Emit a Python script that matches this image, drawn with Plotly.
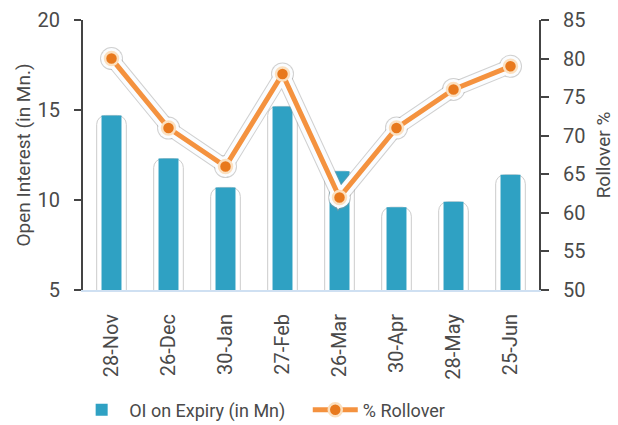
import plotly.graph_objects as go

categories = ["28-Nov", "26-Dec", "30-Jan", "27-Feb", "26-Mar", "30-Apr", "28-May", "25-Jun"]
oi_expiry = [14.7, 12.3, 10.7, 15.2, 11.6, 9.6, 9.9, 11.4]
rollover = [80, 71, 66, 78, 62, 71, 76, 79]

FONT = "Roboto, 'Liberation Sans', sans-serif"
TXT = "#4a4a4a"

fig = go.Figure()

# halo behind bars
fig.add_trace(go.Bar(x=categories, y=oi_expiry, width=0.52, base=0,
                     marker=dict(color="white", line=dict(color="#cccccc", width=1), cornerradius=9),
                     showlegend=False, hoverinfo="skip", yaxis="y"))
fig.add_trace(go.Bar(x=categories, y=oi_expiry, width=0.35, base=0, name="OI on Expiry (in Mn)",
                     marker=dict(color="#2fa1c3", line=dict(width=0)), yaxis="y", legend="legend"))

# halo around line
fig.add_trace(go.Scatter(x=categories, y=rollover, mode="lines+markers", yaxis="y2",
                         line=dict(color="rgba(150,150,150,0.45)", width=15),
                         marker=dict(size=23, color="rgba(150,150,150,0.45)"),
                         showlegend=False, hoverinfo="skip"))
fig.add_trace(go.Scatter(x=categories, y=rollover, mode="lines+markers", yaxis="y2",
                         line=dict(color="#fbfdff", width=13),
                         marker=dict(size=21, color="#fbfdff"),
                         showlegend=False, hoverinfo="skip"))
fig.add_trace(go.Scatter(x=categories, y=rollover, mode="lines+markers", yaxis="y2", name="% Rollover",
                         line=dict(color="#f4923f", width=5), legend="legend2",
                         marker=dict(size=13, color="#e8791d", line=dict(color="#fbe0c0", width=2.5))))

legend_common = dict(orientation="h", xref="container", yref="container", xanchor="left",
                     y=0.035, yanchor="middle", font=dict(size=18, color=TXT), itemwidth=45,
                     bgcolor="rgba(0,0,0,0)")

fig.update_layout(
    width=618, height=425,
    margin=dict(l=83, r=79, t=20, b=135, autoexpand=False),
    paper_bgcolor="white", plot_bgcolor="white",
    barmode="overlay",
    font=dict(family=FONT, color=TXT, size=18),
    xaxis=dict(showgrid=False, zeroline=False, showline=True, linecolor="#cfe0f2", linewidth=2,
               ticks="", tickangle=-90, tickfont=dict(size=20, color=TXT), automargin=False,
               ticklabelstandoff=14, range=[-0.5, 7.5]),
    yaxis=dict(range=[5, 20], dtick=5, showgrid=False, zeroline=False, showline=True, automargin=False,
               linecolor="#444", linewidth=2, ticks="outside", ticklen=7, tickwidth=2, tickcolor="#444",
               tickfont=dict(size=20, color=TXT), ticklabelstandoff=10,
               title=dict(text="Open Interest (in Mn.)", font=dict(size=19, color=TXT), standoff=2)),
    yaxis2=dict(range=[50, 85], dtick=5, overlaying="y", side="right", showgrid=False, zeroline=False,
                showline=True, linecolor="#444", linewidth=2, ticks="outside", ticklen=8, tickwidth=2,
                automargin=False,
                tickcolor="#444", tickfont=dict(size=20, color=TXT), ticklabelstandoff=10,
                title=dict(text="Rollover %", font=dict(size=19, color=TXT), standoff=12)),
    yaxis3=dict(range=[5, 20], dtick=5, overlaying="y", side="left", anchor="x", showgrid=False,
                zeroline=False, showline=False, ticks="inside", ticklen=7, tickwidth=2, tickcolor="#444",
                showticklabels=False, automargin=False),
    yaxis4=dict(range=[50, 85], dtick=5, overlaying="y", side="right", anchor="x", showgrid=False,
                zeroline=False, showline=False, ticks="inside", ticklen=8, tickwidth=2, tickcolor="#444",
                showticklabels=False, automargin=False),
    legend=dict(x=0.12, **legend_common),
    legend2=dict(x=0.498, **legend_common),
)

fig.write_html("out.html")
